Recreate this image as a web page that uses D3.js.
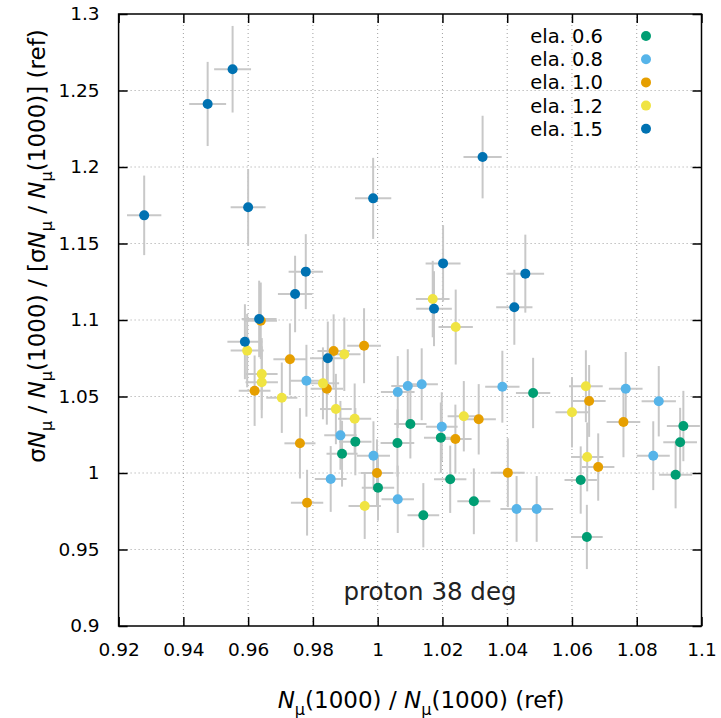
<!doctype html>
<html>
<head>
<meta charset="utf-8">
<title>proton 38 deg</title>
<script src="https://cdn.jsdelivr.net/npm/d3@7"></script>
<style>
  body { margin: 0; background: #fff; }
  svg { font-family: "DejaVu Sans", sans-serif; }
  .grid line { stroke: #a0a0a0; stroke-width: 1; stroke-dasharray: 1,3; }
  .err { stroke: #c8c8c8; stroke-width: 2; }
</style>
</head>
<body>
<svg id="chart" width="721" height="718"></svg>
<script>
// series names and colours
var series = ["ela. 0.6", "ela. 0.8", "ela. 1.0", "ela. 1.2", "ela. 1.5"];
var colors = ["#009e73", "#56b4e9", "#e69f00", "#f0e442", "#0072b2"];

// x values: Nmu(1000) / Nmu(1000)(ref)
var xVals = [
  [1.0101, 1.0061, 0.9931, 0.9890, 1.0001, 1.0141, 1.0195, 1.0224, 1.0297, 1.0480, 1.0627, 1.0646, 1.0944, 1.0934, 1.0920],
  [0.9780, 0.9885, 0.9987, 0.9855, 1.0062, 1.0062, 1.0093, 1.0136, 1.0198, 1.0385, 1.0429, 1.0491, 1.0766, 1.0868, 1.0851],
  [0.9639, 0.9729, 0.9864, 0.9958, 0.9620, 0.9843, 0.9760, 0.9998, 0.9782, 1.0312, 1.0240, 1.0402, 1.0653, 1.0759, 1.0681],
  [0.9597, 0.9897, 0.9642, 0.9642, 0.9704, 0.9831, 0.9871, 0.9929, 0.9960, 1.0170, 1.0241, 1.0266, 1.0643, 1.0600, 1.0647],
  [0.9552, 0.9475, 0.9279, 0.9600, 0.9986, 0.9778, 0.9745, 1.0324, 1.0202, 1.0456, 1.0174, 1.0422, 0.9634, 0.9590, 0.9846]
];
// y values: sigma ratio
var yVals = [
  [1.0320, 1.0196, 1.0205, 1.0126, 0.9904, 0.9724, 1.0231, 0.9959, 0.9815, 1.0523, 0.9954, 0.9582, 1.0307, 1.0201, 0.9989],
  [1.0603, 1.0246, 1.0113, 0.9961, 0.9828, 1.0529, 1.0569, 1.0580, 1.0303, 1.0564, 0.9765, 0.9765, 1.0551, 1.0469, 1.0113],
  [1.0995, 1.0743, 1.0797, 1.0832, 1.0538, 1.0551, 1.0194, 1.0000, 0.9806, 1.0351, 1.0222, 1.0002, 1.0471, 1.0333, 1.0039],
  [1.0800, 1.0776, 1.0647, 1.0593, 1.0492, 1.0586, 1.0418, 1.0355, 0.9784, 1.1137, 1.0954, 1.0371, 1.0567, 1.0397, 1.0105],
  [1.2639, 1.2412, 1.1684, 1.1737, 1.1795, 1.1316, 1.1170, 1.2065, 1.1370, 1.1303, 1.1074, 1.1083, 1.1007, 1.0858, 1.0750]
];
// horizontal error (half width)
var xErrs = [
  [0.0050, 0.0052, 0.0050, 0.0048, 0.0050, 0.0049, 0.0052, 0.0050, 0.0051, 0.0053, 0.0050, 0.0049, 0.0051, 0.0052, 0.0051],
  [0.0052, 0.0050, 0.0051, 0.0049, 0.0050, 0.0052, 0.0051, 0.0050, 0.0049, 0.0053, 0.0050, 0.0051, 0.0052, 0.0053, 0.0051],
  [0.0050, 0.0051, 0.0050, 0.0052, 0.0049, 0.0050, 0.0048, 0.0051, 0.0050, 0.0053, 0.0050, 0.0052, 0.0051, 0.0052, 0.0050],
  [0.0051, 0.0050, 0.0049, 0.0050, 0.0048, 0.0050, 0.0049, 0.0051, 0.0050, 0.0052, 0.0053, 0.0050, 0.0052, 0.0051, 0.0050],
  [0.0057, 0.0057, 0.0053, 0.0054, 0.0056, 0.0053, 0.0053, 0.0059, 0.0054, 0.0058, 0.0055, 0.0056, 0.0054, 0.0054, 0.0055]
];
// vertical error (half height)
var yErrs = [
  [0.0225, 0.0220, 0.0220, 0.0215, 0.0215, 0.0210, 0.0230, 0.0220, 0.0215, 0.0230, 0.0220, 0.0210, 0.0230, 0.0225, 0.0220],
  [0.0235, 0.0225, 0.0225, 0.0215, 0.0220, 0.0235, 0.0240, 0.0235, 0.0225, 0.0235, 0.0215, 0.0215, 0.0240, 0.0230, 0.0225],
  [0.0250, 0.0235, 0.0240, 0.0245, 0.0230, 0.0235, 0.0230, 0.0220, 0.0215, 0.0230, 0.0225, 0.0225, 0.0235, 0.0230, 0.0220],
  [0.0240, 0.0240, 0.0235, 0.0235, 0.0230, 0.0235, 0.0230, 0.0230, 0.0215, 0.0250, 0.0245, 0.0230, 0.0235, 0.0230, 0.0225],
  [0.0283, 0.0275, 0.0260, 0.0250, 0.0265, 0.0245, 0.0250, 0.0270, 0.0250, 0.0255, 0.0245, 0.0245, 0.0250, 0.0245, 0.0240]
];

var xTicks = [0.92, 0.94, 0.96, 0.98, 1, 1.02, 1.04, 1.06, 1.08, 1.1];
var yTicks = [0.9, 0.95, 1, 1.05, 1.1, 1.15, 1.2, 1.25, 1.3];

var svg = d3.select("#chart"),
    margin = {left: 118.6, right: 19.5, top: 14, bottom: 92},
    W = +svg.attr("width"), H = +svg.attr("height"),
    x0 = margin.left, x1 = W - margin.right,
    y0 = H - margin.bottom, y1 = margin.top;

var x = d3.scaleLinear().domain([0.92, 1.1]).range([x0, x1]);
var y = d3.scaleLinear().domain([0.9, 1.3]).range([y0, y1]);

// dotted grid
var grid = svg.append("g").attr("class", "grid");
grid.selectAll("line.gx").data(xTicks.slice(1, -1)).enter().append("line")
    .attr("x1", function(d) { return x(d); }).attr("x2", function(d) { return x(d); })
    .attr("y1", y0).attr("y2", y1);
grid.selectAll("line.gy").data(yTicks.slice(1, -1)).enter().append("line")
    .attr("y1", function(d) { return y(d); }).attr("y2", function(d) { return y(d); })
    .attr("x1", x0).attr("x2", x1);

// axes with inward ticks on every side
var fmt = function(d) { return String(+d.toFixed(2)); };
var tl = 9;
svg.append("g").attr("transform", "translate(0," + y0 + ")")
    .call(d3.axisBottom(x).tickValues(xTicks).tickFormat(fmt).tickSizeInner(-tl).tickSizeOuter(0).tickPadding(tl + 8));
svg.append("g").attr("transform", "translate(0," + y1 + ")")
    .call(d3.axisTop(x).tickValues(xTicks).tickFormat("").tickSizeInner(-tl).tickSizeOuter(0));
svg.append("g").attr("transform", "translate(" + x0 + ",0)")
    .call(d3.axisLeft(y).tickValues(yTicks).tickFormat(fmt).tickSizeInner(-tl).tickSizeOuter(0).tickPadding(tl + 10));
svg.append("g").attr("transform", "translate(" + x1 + ",0)")
    .call(d3.axisRight(y).tickValues(yTicks).tickFormat("").tickSizeInner(-tl).tickSizeOuter(0));

svg.selectAll(".tick line").attr("stroke", "#000").attr("stroke-width", 1.5);
svg.selectAll(".domain").remove();
svg.selectAll(".tick text").attr("font-size", 18.5).attr("font-family", "DejaVu Sans").attr("fill", "#000");

// frame
svg.append("rect").attr("x", x0).attr("y", y1).attr("width", x1 - x0).attr("height", y0 - y1)
    .attr("fill", "none").attr("stroke", "#000").attr("stroke-width", 1.5);

// build point table
var pts = [];
series.forEach(function(s, i) {
  xVals[i].forEach(function(v, j) {
    pts.push({s: i, x: v, y: yVals[i][j], ex: xErrs[i][j], ey: yErrs[i][j]});
  });
});

var plot = svg.append("g");
plot.selectAll("line.ex").data(pts).enter().append("line").attr("class", "err")
    .attr("x1", function(d) { return x(d.x - d.ex); }).attr("x2", function(d) { return x(d.x + d.ex); })
    .attr("y1", function(d) { return y(d.y); }).attr("y2", function(d) { return y(d.y); });
plot.selectAll("line.ey").data(pts).enter().append("line").attr("class", "err")
    .attr("x1", function(d) { return x(d.x); }).attr("x2", function(d) { return x(d.x); })
    .attr("y1", function(d) { return y(d.y - d.ey); }).attr("y2", function(d) { return y(d.y + d.ey); });
plot.selectAll("circle").data(pts).enter().append("circle")
    .attr("cx", function(d) { return x(d.x); }).attr("cy", function(d) { return y(d.y); })
    .attr("r", 5).attr("fill", function(d) { return colors[d.s]; });

// legend
var leg = svg.append("g");
series.forEach(function(s, i) {
  var ly = 36 + i * 23.2;
  leg.append("text").attr("x", 603).attr("y", ly + 7).attr("text-anchor", "end")
      .attr("font-size", 19.5).attr("fill", "#000").text(s);
  leg.append("circle").attr("cx", 646).attr("cy", ly).attr("r", 5).attr("fill", colors[i]);
});

// annotation
svg.append("text").attr("x", 430).attr("y", 600).attr("text-anchor", "middle")
    .attr("font-size", 24.5).attr("fill", "#222").text("proton 38 deg");

// label built from pieces: "N" pieces get italic N + lowered small mu,
// the text after it gets dy back up to the baseline
function richLabel(t, parts, fs) {
  var sh = fs * 0.3, down = false;
  parts.forEach(function(p) {
    if (p === "N") {
      t.append("tspan").attr("font-style", "italic").attr("dy", down ? -sh : 0).text("N");
      t.append("tspan").attr("font-size", fs * 0.7).attr("dy", sh).text("μ");
      down = true;
    } else {
      t.append("tspan").attr("dy", down ? -sh : 0).text(p);
      down = false;
    }
  });
}

var fx = 23;
var xl = svg.append("text").attr("x", 421).attr("y", 708).attr("text-anchor", "middle")
    .attr("font-size", fx).attr("fill", "#000");
richLabel(xl, ["N", "(1000) / ", "N", "(1000) (ref)"], fx);

var yl = svg.append("text").attr("transform", "translate(45,246) rotate(-90)").attr("text-anchor", "middle")
    .attr("font-size", fx).attr("fill", "#000");
richLabel(yl, ["σ", "N", " / ", "N", "(1000) / [σ", "N", " / ", "N", "(1000)] (ref)"], fx);
</script>
</body>
</html>
